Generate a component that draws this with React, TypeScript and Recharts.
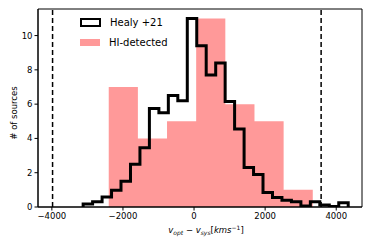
import React from "react";
import {
  ComposedChart, Area, Line, XAxis, YAxis, ReferenceLine, ReferenceArea,
} from "recharts";

// HI-detected histogram (bin edges, counts)
const hiEdges = [-2400, -1580, -760, 60, 880, 1700, 2520, 3340];
const hiCounts = [7, 4, 5, 11, 6, 5, 1];

// Healy +21 histogram (bin edges, normalised counts)
const healyEdges = [
  -3120, -2854, -2587, -2321, -2055, -1788, -1522, -1256, -989, -723,
  -457, -190, 76, 342, 609, 875, 1141, 1408, 1674, 1940,
  2207, 2473, 2739, 3006, 3272, 3538, 3805, 4071, 4337,
];
const healyCounts = [
  0.17, 0.3, 0.58, 0.97, 1.5, 2.5, 3.45, 5.75, 5.5, 6.5,
  6.2, 11.0, 9.4, 7.7, 8.4, 6.15, 4.55, 2.3, 1.9, 0.85,
  0.55, 0.4, 0.3, 0.06, 0.3, 0.12, 0.03, 0.25,
];

const limits = [-3980, 3575];
const xTicks = [-4000, -2000, 0, 2000, 4000];
const yTicks = [0, 2, 4, 6, 8, 10];
const xDomain = [-4390, 4725];
const yDomain = [0, 11.55];

const FONT = "'DejaVu Sans', sans-serif";

// step points for the filled histogram
const hiData = hiEdges.map((x, i) => ({
  x,
  y: hiCounts[Math.min(i, hiCounts.length - 1)],
}));

// outline histogram, dropping to zero at both ends
const healyData = [
  { x: healyEdges[0], y: 0 },
  ...healyCounts.map((c, i) => ({ x: healyEdges[i], y: c })),
  { x: healyEdges[healyEdges.length - 1], y: 0 },
];

const fmt = (v: number) => (v < 0 ? `\u2212${Math.abs(v)}` : `${v}`);

function XLabel(props: any) {
  const vb = props.viewBox || {};
  const cx = vb.x + vb.width / 2 + 6;
  return (
    <text x={cx} y={233} textAnchor="middle" fontFamily={FONT} fontSize={8.5} fill="#000">
      <tspan fontStyle="italic">v</tspan>
      <tspan fontStyle="italic" fontSize={6} dy={2}>opt</tspan>
      <tspan dy={-2}> {"\u2212"} </tspan>
      <tspan fontStyle="italic">v</tspan>
      <tspan fontStyle="italic" fontSize={6} dy={2}>sys</tspan>
      <tspan dy={-2}>[</tspan>
      <tspan fontStyle="italic">kms</tspan>
      <tspan fontSize={6} dy={-3.5}>{"\u22121"}</tspan>
      <tspan dy={3.5}>]</tspan>
    </text>
  );
}

function YLabel() {
  return (
    <text
      x={14} y={113} textAnchor="middle" fontFamily={FONT} fontSize={8.5}
      fill="#000" transform="rotate(-90 14 113)" dominantBaseline="central"
    >
      # of sources
    </text>
  );
}

export default function App() {
  const tick = { fontSize: 8.5, fill: "#000", fontFamily: FONT };
  return (
    <div style={{ position: "absolute", left: 0, top: 0, width: 374, height: 249, background: "#fff" }}>
      <ComposedChart
        width={374}
        height={249}
        margin={{ top: 9, right: 12, left: 0, bottom: 12 }}
      >
        <XAxis
          type="number"
          dataKey="x"
          domain={xDomain}
          ticks={xTicks}
          allowDataOverflow
          tickFormatter={fmt}
          tick={tick}
          tickSize={3.5}
          tickLine={{ stroke: "#000" }}
          axisLine={{ stroke: "#000" }}
          height={30}
          label={<XLabel />}
        />
        <YAxis
          type="number"
          dataKey="y"
          domain={yDomain}
          ticks={yTicks}
          allowDataOverflow
          tick={tick}
          tickSize={3.5}
          tickLine={{ stroke: "#000" }}
          axisLine={{ stroke: "#000" }}
          width={38}
          label={<YLabel />}
        />
        <Area
          data={hiData}
          dataKey="y"
          type="stepAfter"
          fill="#ff9999"
          fillOpacity={1}
          stroke="none"
          isAnimationActive={false}
        />
        <Line
          data={healyData}
          dataKey="y"
          type="stepAfter"
          stroke="#000"
          strokeWidth={3}
          strokeLinejoin="miter"
          dot={false}
          isAnimationActive={false}
        />
        {limits.map((v) => (
          <ReferenceLine key={v} x={v} stroke="#000" strokeWidth={1.5} strokeDasharray="5 3" />
        ))}
        <ReferenceArea
          x1={xDomain[0]} x2={xDomain[1]} y1={yDomain[0]} y2={yDomain[1]}
          fill="none" stroke="#000" strokeWidth={1} ifOverflow="visible"
        />
      </ComposedChart>
      <div style={{ position: "absolute", left: 80, top: 15, fontFamily: FONT, fontSize: 10, color: "#000" }}>
        <div style={{ display: "flex", alignItems: "center", height: 15 }}>
          <div style={{ width: 17, height: 5, border: "2.5px solid #000", marginRight: 9 }} />
          <span>Healy +21</span>
        </div>
        <div style={{ display: "flex", alignItems: "center", height: 15, marginTop: 5 }}>
          <div style={{ width: 20, height: 7, background: "#ff9999", marginRight: 9 }} />
          <span>HI-detected</span>
        </div>
      </div>
    </div>
  );
}
